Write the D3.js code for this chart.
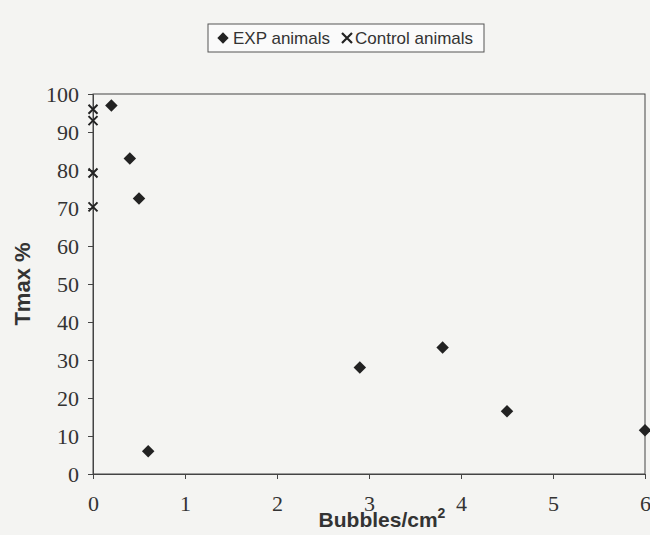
<!doctype html>
<html lang="en">
<head>
<meta charset="utf-8" />
<title>Tmax vs bubbles</title>
<script src="https://d3js.org/d3.v7.min.js"></script>
<style>
  body { margin: 0; background: #f4f4f2; }
  .tick text { font-family: "Liberation Serif", "Times New Roman", serif; font-size: 22px; fill: #333; }
</style>
</head>
<body>
<svg></svg>
<script>
// data
const expX = [0.2, 0.4, 0.5, 0.6, 2.9, 3.8, 4.5, 6];
const expY = [97, 83, 72.5, 6, 28, 33.3, 16.5, 11.5];
const ctrlX = [0, 0, 0, 0];
const ctrlY = [96, 93, 79.2, 70.3];
const xTicks = [0, 1, 2, 3, 4, 5, 6];
const yTicks = [0, 10, 20, 30, 40, 50, 60, 70, 80, 90, 100];

let width = 650,
    height = 535;

let svg = d3.select("svg")
    .attr("width", width)
    .attr("height", height);

let x = d3.scaleLinear().domain([0, 6]).range([93, 645]);
let y = d3.scaleLinear().domain([0, 100]).range([474, 94]);

// plot frame
svg.append("rect")
    .attr("x", x(0)).attr("y", y(100))
    .attr("width", x(6) - x(0)).attr("height", y(0) - y(100))
    .attr("fill", "none")
    .attr("stroke", "#444")
    .attr("stroke-width", 1);

let xAxis = svg.append("g")
    .attr("transform", `translate(0,${y(0)})`)
    .call(d3.axisBottom(x).tickValues(xTicks).tickFormat(d3.format("d")).tickSize(5).tickPadding(16));

let yAxis = svg.append("g")
    .attr("transform", `translate(${x(0)},0)`)
    .call(d3.axisLeft(y).tickValues(yTicks).tickFormat(d3.format("d")).tickSize(5).tickPadding(9));

[xAxis, yAxis].forEach(a => {
    a.select(".domain").attr("stroke", "#444");
    a.selectAll(".tick line").attr("stroke", "#444");
});

// axis titles
svg.append("text")
    .attr("x", 382).attr("y", 527)
    .attr("text-anchor", "middle")
    .style("font-family", "Liberation Sans, Arial, sans-serif")
    .style("font-weight", "bold")
    .style("font-size", "21px")
    .attr("fill", "#333")
    .html('Bubbles/cm<tspan dy="-9" font-size="14px">2</tspan>');

svg.append("text")
    .attr("transform", "translate(30,284) rotate(-90)")
    .attr("text-anchor", "middle")
    .style("font-family", "Liberation Sans, Arial, sans-serif")
    .style("font-weight", "bold")
    .style("font-size", "22px")
    .attr("fill", "#333")
    .text("Tmax %");

let diamond = d3.symbol().type(d3.symbolSquare).size(78);

// EXP animals
svg.append("g").selectAll("path")
    .data(expX.map((d, i) => [d, expY[i]]))
    .enter()
    .append("path")
        .attr("d", diamond)
        .attr("transform", d => `translate(${x(d[0])},${y(d[1])}) rotate(45)`)
        .attr("fill", "#222");

// Control animals
svg.append("g").selectAll("path")
    .data(ctrlX.map((d, i) => [d, ctrlY[i]]))
    .enter()
    .append("path")
        .attr("d", "M-4.5,-4.5L4.5,4.5M-4.5,4.5L4.5,-4.5")
        .attr("transform", d => `translate(${x(d[0])},${y(d[1])})`)
        .attr("stroke", "#222")
        .attr("stroke-width", 2)
        .attr("fill", "none");

// legend
let legend = svg.append("g");
legend.append("rect")
    .attr("x", 208).attr("y", 24).attr("width", 276).attr("height", 28)
    .attr("fill", "#fafafa").attr("stroke", "#555");
legend.append("path")
    .attr("d", d3.symbol().type(d3.symbolSquare).size(64))
    .attr("transform", "translate(223,38) rotate(45)")
    .attr("fill", "#222");
legend.append("text")
    .attr("x", 233).attr("y", 44)
    .style("font-family", "Liberation Sans, Arial, sans-serif")
    .style("font-size", "17px")
    .attr("fill", "#333")
    .text("EXP animals");
legend.append("path")
    .attr("d", "M-5,-5L5,5M-5,5L5,-5")
    .attr("transform", "translate(347,38)")
    .attr("stroke", "#222").attr("stroke-width", 2.2);
legend.append("text")
    .attr("x", 355).attr("y", 44)
    .style("font-family", "Liberation Sans, Arial, sans-serif")
    .style("font-size", "17px")
    .attr("fill", "#333")
    .text("Control animals");
</script>
</body>
</html>
